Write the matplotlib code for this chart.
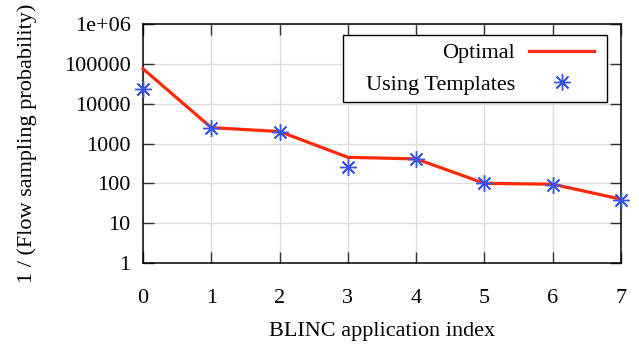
import numpy as np
import matplotlib
matplotlib.use('Agg')
import matplotlib.pyplot as plt
from matplotlib.patches import Rectangle
from matplotlib.ticker import LogLocator, NullFormatter

# BLINC application index vs 1/(flow sampling probability)
app_index = [0, 1, 2, 3, 4, 5, 6, 7]
optimal = [75000, 2500, 2000, 450, 410, 100, 95, 40]
templates = [23500, 2500, 2000, 250, 410, 100, 90, 38]

ytick_vals = [1, 10, 100, 1000, 10000, 100000, 1000000]
ytick_labels = ['1', '10', '100', '1000', '10000', '100000', '1e+06']

plt.rcParams['font.family'] = ['Liberation Serif', 'DejaVu Serif']
plt.rcParams['font.size'] = 16

fig = plt.figure(figsize=(6.39, 3.47), dpi=100)
ax = fig.add_axes([0.2238, 0.2421, 0.9718 - 0.2238, 0.9308 - 0.2421])

ax.plot(app_index, optimal, color='#ff2a0a', lw=2.3, label='Optimal',
        clip_on=False, zorder=3)
ax.plot(app_index, templates, ls='none', marker=(8, 2, 0), ms=12, mew=1.0,
        color='#3553f2', label='Using Templates', clip_on=False, zorder=4)

ax.set_yscale('log')
ax.set_xlim(0, 7)
ax.set_ylim(1, 1e6)
ax.set_xticks(app_index)
ax.set_yticks(ytick_vals)
ax.set_yticklabels(ytick_labels)
ax.yaxis.set_minor_locator(LogLocator(base=10, subs=[2, 5]))
ax.yaxis.set_minor_formatter(NullFormatter())

ax.tick_params(which='both', direction='in', top=True, right=True,
               color='#333333', width=1)
ax.tick_params(which='major', length=8)
ax.tick_params(which='minor', length=4)
ax.tick_params(axis='x', pad=19)
ax.tick_params(axis='y', pad=9)

ax.grid(True, which='major', color='#dddddd', lw=1)
ax.set_axisbelow(True)
for s in ax.spines.values():
    s.set_linewidth(1.1)

ax.set_xlabel('BLINC application index', labelpad=10)
ax.set_ylabel('1 / (Flow sampling probability)')
ax.yaxis.set_label_coords(-0.222, 0.5)

# legend box, gnuplot style (wider on the left than the entries)
ax.add_patch(Rectangle((0.418, 0.674), 0.971 - 0.418, 0.954 - 0.674,
                       transform=ax.transAxes, facecolor='white',
                       edgecolor='black', lw=1.0, zorder=5))
leg = ax.legend(loc='upper right', bbox_to_anchor=(0.9597, 0.954),
                borderaxespad=0, markerfirst=False, frameon=False,
                handlelength=2.9, handletextpad=0.65, labelspacing=0.5,
                borderpad=0.35)
leg.set_zorder(6)

fig.savefig('out.png', dpi=100)
